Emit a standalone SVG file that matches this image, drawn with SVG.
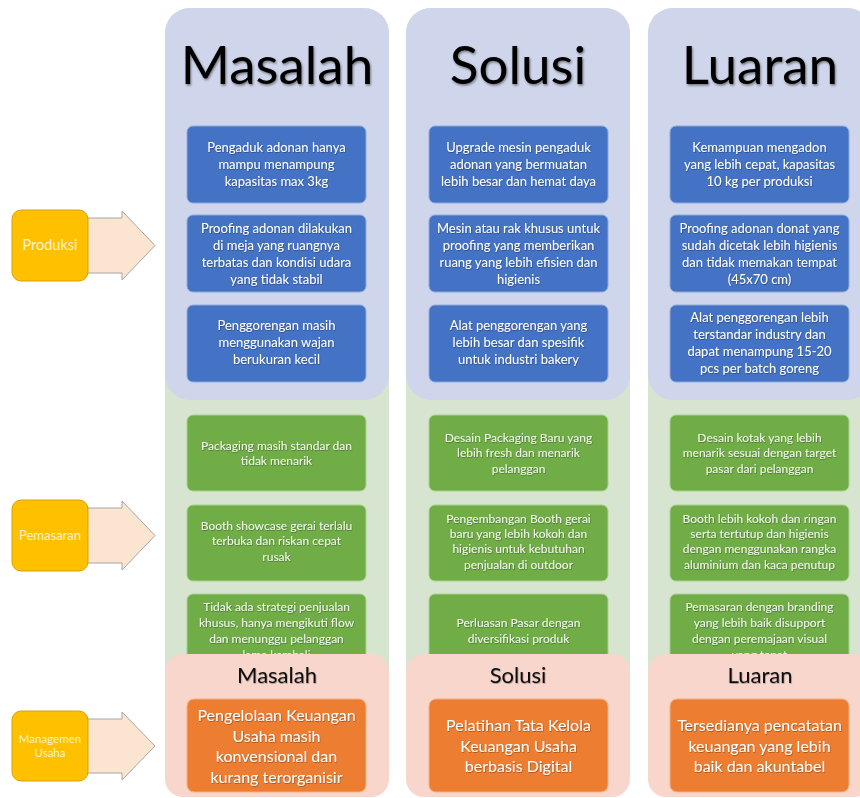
<svg xmlns="http://www.w3.org/2000/svg" width="860" height="798" viewBox="0 0 860 798">
<defs>
<filter id="sh" x="-10%" y="-10%" width="120%" height="130%"><feDropShadow dx="1" dy="1.5" stdDeviation="1" flood-color="#000" flood-opacity="0.45"/></filter>
<filter id="shs" x="-10%" y="-10%" width="120%" height="130%"><feDropShadow dx="0.6" dy="0.8" stdDeviation="0.5" flood-color="#000" flood-opacity="0.35"/></filter>
</defs>
<style>
.pb{fill:#cfd5ea}
.pg{fill:#d6e4d0}
.pp{fill:#f8d6cb}
.bb{fill:#4472c4;stroke:#8eaadb;stroke-width:1}
.gb{fill:#70ad47;stroke:#a9d18e;stroke-width:1}
.ob{fill:#ed7d31;stroke:#f4b183;stroke-width:1}
.hd{font-family:Lato,"Liberation Sans",sans-serif;font-size:53px;fill:#000;text-anchor:middle;filter:url(#sh)}
.hs{font-family:Lato,"Liberation Sans",sans-serif;font-size:22px;fill:#111;text-anchor:middle;filter:url(#shs)}
.tb{font-family:Lato,"Liberation Sans",sans-serif;font-size:13px;fill:#fff;text-anchor:middle;filter:url(#shs)}
.tg{font-family:Lato,"Liberation Sans",sans-serif;font-size:12px;fill:#f2f8ee;text-anchor:middle;filter:url(#shs)}
.to{font-family:Lato,"Liberation Sans",sans-serif;font-size:16px;fill:#fff;text-anchor:middle;filter:url(#shs)}
.lb{fill:#ffc000;stroke:#d8a300;stroke-width:1}
.ar{fill:#fbe5d0;stroke:#a6a6a6;stroke-width:1}
.tl{font-family:Lato,"Liberation Sans",sans-serif;fill:#fff2cc;text-anchor:middle}
</style>

<!-- column backgrounds -->
<g id="col-masalah-bg">
<rect class="pg" x="165" y="8" width="224" height="720" rx="25"/>
<rect class="pb" x="165" y="8" width="224" height="392" rx="25"/>
</g>
<g id="col-solusi-bg">
<rect class="pg" x="406" y="8" width="224" height="720" rx="25"/>
<rect class="pb" x="406" y="8" width="224" height="392" rx="25"/>
</g>
<g id="col-luaran-bg">
<rect class="pg" x="648" y="8" width="224" height="720" rx="25"/>
<rect class="pb" x="648" y="8" width="224" height="392" rx="25"/>
</g>

<g id="headers">
<text class="hd" x="277" y="84">Masalah</text>
<text class="hd" x="518" y="84">Solusi</text>
<text class="hd" x="760" y="84">Luaran</text>
</g>

<!-- Produksi row -->
<g id="m-prod-1"><rect class="bb" x="187" y="126" width="179" height="77" rx="6"/>
<text class="tb" x="276.5" y="152">Pengaduk adonan hanya</text><text class="tb" x="276.5" y="169">mampu menampung</text><text class="tb" x="276.5" y="186">kapasitas max 3kg</text></g>
<g id="m-prod-2"><rect class="bb" x="187" y="215" width="179" height="77" rx="6"/>
<text class="tb" x="276.5" y="233">Proofing adonan dilakukan</text><text class="tb" x="276.5" y="250">di meja yang ruangnya</text><text class="tb" x="276.5" y="267">terbatas dan kondisi udara</text><text class="tb" x="276.5" y="284">yang tidak stabil</text></g>
<g id="m-prod-3"><rect class="bb" x="187" y="305" width="179" height="77" rx="6"/>
<text class="tb" x="276.5" y="330">Penggorengan masih</text><text class="tb" x="276.5" y="347">menggunakan wajan</text><text class="tb" x="276.5" y="364">berukuran kecil</text></g>

<g id="s-prod-1"><rect class="bb" x="429" y="126" width="179" height="77" rx="6"/>
<text class="tb" x="518.5" y="152">Upgrade mesin pengaduk</text><text class="tb" x="518.5" y="169">adonan yang bermuatan</text><text class="tb" x="518.5" y="186">lebih besar dan hemat daya</text></g>
<g id="s-prod-2"><rect class="bb" x="429" y="215" width="179" height="77" rx="6"/>
<text class="tb" x="518.5" y="233">Mesin atau rak khusus untuk</text><text class="tb" x="518.5" y="250">proofing yang memberikan</text><text class="tb" x="518.5" y="267">ruang yang lebih efisien dan</text><text class="tb" x="518.5" y="284">higienis</text></g>
<g id="s-prod-3"><rect class="bb" x="429" y="305" width="179" height="77" rx="6"/>
<text class="tb" x="518.5" y="330">Alat penggorengan yang</text><text class="tb" x="518.5" y="347">lebih besar dan spesifik</text><text class="tb" x="518.5" y="364">untuk industri bakery</text></g>

<g id="l-prod-1"><rect class="bb" x="670" y="126" width="179" height="77" rx="6"/>
<text class="tb" x="759.5" y="152">Kemampuan mengadon</text><text class="tb" x="759.5" y="169">yang lebih cepat, kapasitas</text><text class="tb" x="759.5" y="186">10 kg per produksi</text></g>
<g id="l-prod-2"><rect class="bb" x="670" y="215" width="179" height="77" rx="6"/>
<text class="tb" x="759.5" y="233">Proofing adonan donat yang</text><text class="tb" x="759.5" y="250">sudah dicetak lebih higienis</text><text class="tb" x="759.5" y="267">dan tidak memakan tempat</text><text class="tb" x="759.5" y="284">(45x70 cm)</text></g>
<g id="l-prod-3"><rect class="bb" x="670" y="305" width="179" height="77" rx="6"/>
<text class="tb" x="759.5" y="322">Alat penggorengan lebih</text><text class="tb" x="759.5" y="339">terstandar industry dan</text><text class="tb" x="759.5" y="356">dapat menampung 15-20</text><text class="tb" x="759.5" y="373">pcs per batch goreng</text></g>

<!-- Pemasaran row -->
<g id="m-pem-1"><rect class="gb" x="187" y="415" width="179" height="76" rx="6"/>
<text class="tg" x="276.5" y="450">Packaging masih standar dan</text><text class="tg" x="276.5" y="465">tidak menarik</text></g>
<g id="m-pem-2"><rect class="gb" x="187" y="505" width="179" height="76" rx="6"/>
<text class="tg" x="276.5" y="530">Booth showcase gerai terlalu</text><text class="tg" x="276.5" y="545">terbuka dan riskan cepat</text><text class="tg" x="276.5" y="561">rusak</text></g>
<g id="m-pem-3"><rect class="gb" x="187" y="594" width="179" height="76" rx="6"/>
<text class="tg" x="276.5" y="611">Tidak ada strategi penjualan</text><text class="tg" x="276.5" y="627">khusus, hanya mengikuti flow</text><text class="tg" x="276.5" y="643">dan menunggu pelanggan</text><text class="tg" x="276.5" y="659">lama kembali</text></g>

<g id="s-pem-1"><rect class="gb" x="429" y="415" width="179" height="76" rx="6"/>
<text class="tg" x="518.5" y="442">Desain Packaging Baru yang</text><text class="tg" x="518.5" y="457">lebih fresh dan menarik</text><text class="tg" x="518.5" y="473">pelanggan</text></g>
<g id="s-pem-2"><rect class="gb" x="429" y="505" width="179" height="76" rx="6"/>
<text class="tg" x="518.5" y="523">Pengembangan Booth gerai</text><text class="tg" x="518.5" y="538">baru yang lebih kokoh dan</text><text class="tg" x="518.5" y="553">higienis untuk kebutuhan</text><text class="tg" x="518.5" y="569">penjualan di outdoor</text></g>
<g id="s-pem-3"><rect class="gb" x="429" y="594" width="179" height="76" rx="6"/>
<text class="tg" x="518.5" y="627">Perluasan Pasar dengan</text><text class="tg" x="518.5" y="643">diversifikasi produk</text></g>

<g id="l-pem-1"><rect class="gb" x="670" y="415" width="179" height="76" rx="6"/>
<text class="tg" x="759.5" y="442">Desain kotak yang lebih</text><text class="tg" x="759.5" y="457">menarik sesuai dengan target</text><text class="tg" x="759.5" y="473">pasar dari pelanggan</text></g>
<g id="l-pem-2"><rect class="gb" x="670" y="505" width="179" height="76" rx="6"/>
<text class="tg" x="759.5" y="523">Booth lebih kokoh dan ringan</text><text class="tg" x="759.5" y="538">serta tertutup dan higienis</text><text class="tg" x="759.5" y="553">dengan menggunakan rangka</text><text class="tg" x="759.5" y="569">aluminium dan kaca penutup</text></g>
<g id="l-pem-3"><rect class="gb" x="670" y="594" width="179" height="76" rx="6"/>
<text class="tg" x="759.5" y="611">Pemasaran dengan branding</text><text class="tg" x="759.5" y="627">yang lebih baik disupport</text><text class="tg" x="759.5" y="643">dengan peremajaan visual</text><text class="tg" x="759.5" y="659">yang tepat</text></g>

<!-- Managemen Usaha row -->
<g id="m-man"><rect class="pp" x="165" y="654" width="224" height="143" rx="18"/>
<text class="hs" x="277" y="683">Masalah</text>
<rect class="ob" x="187" y="699" width="179" height="93" rx="7"/>
<text class="to" x="276.5" y="721">Pengelolaan Keuangan</text><text class="to" x="276.5" y="742">Usaha masih</text><text class="to" x="276.5" y="762">konvensional dan</text><text class="to" x="276.5" y="783">kurang terorganisir</text></g>
<g id="s-man"><rect class="pp" x="406" y="654" width="224" height="143" rx="18"/>
<text class="hs" x="518" y="683">Solusi</text>
<rect class="ob" x="429" y="699" width="179" height="93" rx="7"/>
<text class="to" x="518.5" y="731">Pelatihan Tata Kelola</text><text class="to" x="518.5" y="752">Keuangan Usaha</text><text class="to" x="518.5" y="772">berbasis Digital</text></g>
<g id="l-man"><rect class="pp" x="648" y="654" width="224" height="143" rx="18"/>
<text class="hs" x="760" y="683">Luaran</text>
<rect class="ob" x="670" y="699" width="179" height="93" rx="7"/>
<text class="to" x="759.5" y="731">Tersedianya pencatatan</text><text class="to" x="759.5" y="752">keuangan yang lebih</text><text class="to" x="759.5" y="772">baik dan akuntabel</text></g>

<!-- left row labels -->
<g id="connectors">
<path class="ar" d="M86,218 H122 V211 L155,245.5 L122,280 V273 H86 Z"/>
<path class="ar" d="M86,508 H122 V501 L155,535.5 L122,570 V563 H86 Z"/>
<path class="ar" d="M86,719 H122 V712 L155,746 L122,780 V773 H86 Z"/>
</g>
<g id="lbl-produksi"><rect class="lb" x="12" y="210" width="76" height="71" rx="9"/>
<text class="tl" x="50" y="250" font-size="14.5">Produksi</text></g>
<g id="lbl-pemasaran"><rect class="lb" x="12" y="500" width="76" height="71" rx="9"/>
<text class="tl" x="50" y="540" font-size="13">Pemasaran</text></g>
<g id="lbl-managemen"><rect class="lb" x="12" y="711" width="76" height="70" rx="9"/>
<text class="tl" x="50" y="743" font-size="11.5">Managemen</text><text class="tl" x="50" y="757" font-size="11.5">Usaha</text></g>
</svg>
